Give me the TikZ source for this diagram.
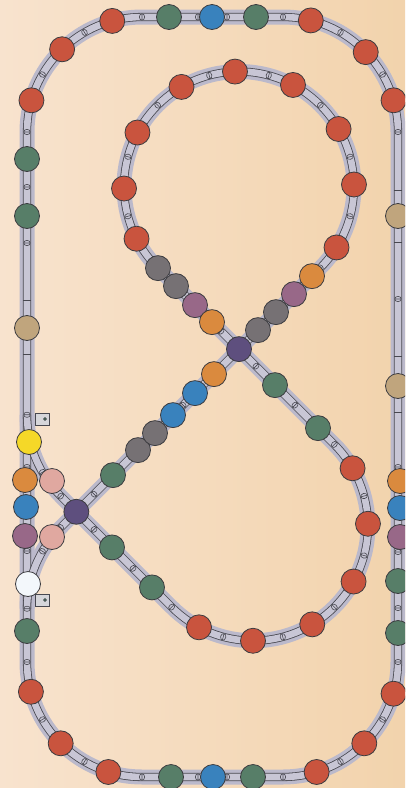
\documentclass[tikz,border=0pt]{standalone}
\definecolor{bgLeft}{RGB}{248,227,206}
\definecolor{bgRight}{RGB}{242,211,172}
\definecolor{trackBed}{RGB}{187,185,203}
\definecolor{railFill}{RGB}{200,198,213}
\definecolor{railDark}{RGB}{72,72,80}
\definecolor{carLine}{RGB}{60,60,64}
\definecolor{carRed}{RGB}{201,84,62}
\definecolor{carGreen}{RGB}{87,126,104}
\definecolor{carBlue}{RGB}{57,130,189}
\definecolor{carTan}{RGB}{192,165,125}
\definecolor{carOrange}{RGB}{218,138,62}
\definecolor{carMauve}{RGB}{152,104,136}
\definecolor{carGray}{RGB}{118,113,116}
\definecolor{carPurple}{RGB}{94,79,126}
\definecolor{carPink}{RGB}{224,168,160}
\definecolor{carYellow}{RGB}{245,216,40}
\definecolor{carWhite}{RGB}{243,247,251}
\definecolor{sigFill}{RGB}{214,214,218}
\definecolor{sigDot}{RGB}{70,100,85}
\usepackage{tikz}
\usetikzlibrary{calc}

\begin{document}
\begin{tikzpicture}[
    x=1pt, y=1pt,
    bed/.style={draw=trackBed, line width=15pt},
    rail/.style={draw=railDark, line width=0.8pt, double=railFill, double distance=6.6pt},
    car/.style={circle, draw=carLine, line width=0.8pt, minimum size=25pt, inner sep=0pt},
    tie/.style={draw=railDark, line width=0.6pt, fill=railFill},
    joint/.style={draw=railDark, line width=0.7pt},
    signal/.style={draw=railDark, line width=0.7pt, fill=sigFill}
  ]
  \useasboundingbox (0,0) rectangle (405,-788);
  \clip (0,0) rectangle (405,-788);
  \shade[left color=bgLeft, right color=bgRight] (0,0) rectangle (405,-788);

  % curve centres (all radius 115)
  \coordinate (C1) at (142,-132);
  \coordinate (C2) at (283,-132);
  \coordinate (C3) at (142,-662);
  \coordinate (C4) at (283,-662);
  \coordinate (U) at (239,-186.5);
  \coordinate (L) at (253,-525.77);
  \coordinate (B1) at (142,-414.77);
  \coordinate (B2) at (142,-608.77);
  \coordinate (X1) at (76.36,-511.77);
  \coordinate (T1) at (320.32,-267.82);
  \coordinate (T2) at (334.32,-444.45);

  % track: beds first, rails after
  \foreach \pass in {bed,rail} {
    \draw[\pass, rounded corners=115pt] (27,-17) rectangle (398,-777);
    \draw[\pass] (X1) -- (T1) arc[start angle=-45, end angle=225, radius=115]
      -- (T2) arc[start angle=45, end angle=-135, radius=115] -- cycle;
    \draw[\pass] (27,-414.77) arc[start angle=180, end angle=225, radius=115] -- (X1);
    \draw[\pass] (27,-608.77) arc[start angle=180, end angle=135, radius=115] -- (X1);
  }

  % ties on the curves
  \foreach \c/\a in {C1/90,C1/120,C1/150,C1/180,C2/90,C2/60,C2/30,C2/0,
      C3/180,C3/210,C3/240,C3/270,C4/270,C4/300,C4/330,C4/0,
      U/-45,U/-15,U/15,U/45,U/75,U/105,U/135,U/165,U/195,U/225,
      L/45,L/15,L/-15,L/-45,L/-75,L/-105,L/-135,
      B1/180,B1/210,B1/225,B2/180,B2/150,B2/135}
    \draw[tie, shift={($(\c)+(\a:115)$)}, rotate=\a]
      (0,0) ellipse (3.4pt and 2.6pt) (-3.6pt,0) -- (3.6pt,0);
  % ties on the straights
  \foreach \tx/\ty/\a in {198/-17/90,227/-17/90,198/-777/90,227/-777/90,
      27/-187/0,27/-243/0,27/-467/0,27/-551/0,
      398/-299/0,398/-467/0,398/-552/0,398/-608/0,
      221/-331.13/45,256/-366.13/45,295/-405.13/45,
      94/-494.13/-45,183/-405.13/-45,94/-529.41/45,133/-568.41/45}
    \draw[tie, shift={(\tx,\ty)}, rotate=\a]
      (0,0) ellipse (3.4pt and 2.6pt) (-3.6pt,0) -- (3.6pt,0);
  % rail joints
  \foreach \tx/\ty in {27/-300,27/-354,398/-190,398/-242,398/-356,398/-412}
    \draw[joint] (\tx-3.7,\ty) -- (\tx+3.7,\ty);

  % signals
  \draw[signal] (35,-413) rectangle (49,-425);
  \draw[signal] (35,-594) rectangle (49,-606);
  \filldraw[draw=railDark, fill=sigDot, line width=0.4pt] (45,-419) circle (1.6pt);
  \filldraw[draw=railDark, fill=sigDot, line width=0.4pt] (45,-600) circle (1.6pt);

  % cars on curves
  \foreach \c/\a/\col [count=\i] in {C1/105/carRed,C1/134/carRed,C1/164/carRed,
      C2/76/carRed,C2/44/carRed,C2/16/carRed,
      C3/195/carRed,C3/225/carRed,C3/253/carRed,
      C4/-73/carRed,C4/-45/carRed,C4/-16/carRed,
      U/1/carRed,U/30/carRed,U/62/carRed,U/92/carRed,U/120/carRed,
      U/152/carRed,U/181/carRed,U/207/carRed,U/-32/carRed,
      L/30/carRed,L/1/carRed,L/-29/carRed,L/-59/carRed,L/-90/carRed,L/-118/carRed}
    \node[car, fill=\col] (bend\i) at ($(\c)+(\a:115)$) {};

  % cars on straights
  \foreach \cx/\cy/\col [count=\i] in {169/-17/carGreen,212/-17/carBlue,256/-17/carGreen,
      171/-777/carGreen,213/-777/carBlue,253/-777/carGreen,
      27/-159/carGreen,27/-216/carGreen,27/-328/carTan,29/-442/carYellow,
      25/-480/carOrange,26/-507/carBlue,25/-536/carMauve,28/-584/carWhite,27/-631/carGreen,
      398/-216/carTan,398/-386/carTan,400/-481/carOrange,400/-508/carBlue,
      400/-537/carMauve,398/-581/carGreen,398/-633/carGreen,
      52/-481/carPink,52/-537/carPink,
      113/-475.13/carGreen,138/-450.13/carGray,155/-433.13/carGray,173/-415.13/carBlue,
      195/-393.13/carBlue,214/-374.13/carOrange,
      158/-268.13/carGray,176/-286.13/carGray,195/-305.13/carMauve,212/-322.13/carOrange,
      312/-276.13/carOrange,294/-294.13/carMauve,276/-312.13/carGray,258/-330.13/carGray,
      275/-385.13/carGreen,318/-428.13/carGreen,
      112/-547.41/carGreen,152/-587.41/carGreen}
    \node[car, fill=\col] (line\i) at (\cx,\cy) {};

  \node[car, fill=carPurple] (cross) at (239,-349.13) {};
  \node[car, fill=carPurple] (junction) at (X1) {};
\end{tikzpicture}
\end{document}
